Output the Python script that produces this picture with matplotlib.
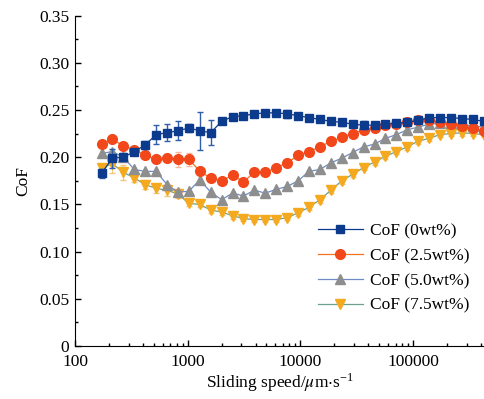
import numpy as np
import matplotlib
matplotlib.use("Agg")
import matplotlib.pyplot as plt
from matplotlib.ticker import LogLocator, MultipleLocator, NullFormatter

plt.rcParams["font.family"] = ["Liberation Serif", "DejaVu Serif"]
plt.rcParams["mathtext.fontset"] = "stix"

# Vitesse de glissement (um/s)
speed = [172, 215, 269, 336, 420, 525, 656, 820, 1025, 1281, 1601, 2001,
         2502, 3127, 3909, 4886, 6108, 7635, 9543, 11929, 14911, 18639, 23299, 29124,
         36405, 45506, 56883, 71103, 88879, 111099, 138874, 173592, 216990, 271238, 339047, 423809]

cof_0 = [0.183, 0.199, 0.200, 0.206, 0.213, 0.224, 0.226, 0.228, 0.231, 0.228, 0.226, 0.238,
         0.243, 0.244, 0.246, 0.247, 0.247, 0.246, 0.244, 0.242, 0.240, 0.238, 0.237, 0.235,
         0.234, 0.234, 0.235, 0.236, 0.237, 0.239, 0.242, 0.242, 0.242, 0.241, 0.240, 0.238]
err_0 = [0.005, 0.010, 0.004, 0.003, 0.004, 0.010, 0.009, 0.010, 0.004, 0.020, 0.013, 0.003,
         0.003, 0.003, 0.003, 0.003, 0.003, 0.004, 0.003, 0.003, 0.003, 0.003, 0.004, 0.003,
         0.004, 0.003, 0.003, 0.003, 0.003, 0.003, 0.003, 0.003, 0.003, 0.003, 0.003, 0.003]

cof_25 = [0.214, 0.219, 0.212, 0.208, 0.202, 0.198, 0.199, 0.198, 0.198, 0.185, 0.178, 0.175,
          0.181, 0.174, 0.184, 0.184, 0.189, 0.194, 0.202, 0.206, 0.211, 0.217, 0.221, 0.225,
          0.229, 0.231, 0.234, 0.235, 0.237, 0.239, 0.239, 0.237, 0.235, 0.233, 0.231, 0.228]
err_25 = [0.003, 0.003, 0.003, 0.003, 0.003, 0.003, 0.003, 0.008, 0.007, 0.003, 0.003, 0.003,
          0.003, 0.003, 0.003, 0.003, 0.003, 0.003, 0.003, 0.003, 0.003, 0.003, 0.003, 0.003,
          0.003, 0.003, 0.003, 0.003, 0.003, 0.003, 0.003, 0.003, 0.003, 0.003, 0.003, 0.003]

cof_50 = [0.204, 0.206, 0.200, 0.187, 0.185, 0.185, 0.171, 0.163, 0.164, 0.176, 0.163, 0.155,
          0.162, 0.159, 0.165, 0.162, 0.166, 0.169, 0.175, 0.185, 0.187, 0.194, 0.199, 0.205,
          0.211, 0.214, 0.220, 0.224, 0.229, 0.232, 0.235, 0.236, 0.236, 0.235, 0.233, 0.232]

cof_75 = [0.189, 0.193, 0.184, 0.178, 0.171, 0.167, 0.165, 0.161, 0.151, 0.150, 0.144, 0.142,
          0.138, 0.135, 0.134, 0.134, 0.134, 0.136, 0.141, 0.147, 0.155, 0.165, 0.175, 0.182,
          0.189, 0.195, 0.201, 0.206, 0.211, 0.217, 0.220, 0.224, 0.225, 0.226, 0.225, 0.224]
err_75 = [0.004, 0.010, 0.008, 0.004, 0.005, 0.005, 0.006, 0.004, 0.003, 0.003, 0.003, 0.003,
          0.003, 0.003, 0.003, 0.003, 0.003, 0.003, 0.003, 0.003, 0.003, 0.003, 0.003, 0.003,
          0.003, 0.003, 0.003, 0.003, 0.003, 0.003, 0.003, 0.003, 0.003, 0.003, 0.003, 0.003]

labels = ["CoF (0wt%)", "CoF (2.5wt%)", "CoF (5.0wt%)", "CoF (7.5wt%)"]
y_ticks = [0, 0.05, 0.10, 0.15, 0.20, 0.25, 0.30, 0.35]
y_labels = ["0", "0.05", "0.10", "0.15", "0.20", "0.25", "0.30", "0.35"]

fig = plt.figure(figsize=(4.85, 3.99), dpi=100)
ax = fig.add_axes([0.1546, 0.1328, 0.8454, 0.828])

# courbes
h0 = ax.errorbar(speed, cof_0, yerr=err_0, color="#0c3b8e", ecolor="#2f5fa8", lw=0.9, elinewidth=1.0,
                 capsize=2.5, marker="s", ms=6, zorder=5)
h1 = ax.errorbar(speed, cof_25, yerr=err_25, color="#f0741f", mfc="#f2471a", mec="#f2471a",
                 ecolor="#f7b89a", lw=0.9, elinewidth=0.8, capsize=2.5, marker="o", ms=7, zorder=4)
h2, = ax.plot(speed, cof_50, color="#6d8cc6", mfc="#8e8e8e", mec="#8e8e8e", lw=0.9,
              marker="^", ms=7, zorder=3)
h3 = ax.errorbar(speed, cof_75, yerr=err_75, color="#6ea08e", mfc="#f5a91e", mec="#f5a91e",
                 ecolor="#f2c77a", lw=0.9, elinewidth=0.8, capsize=2.5, marker="v", ms=7, zorder=2)

ax.set_xscale("log")
ax.set_xlim(100, 4.35e5)
ax.set_ylim(0, 0.35)
ax.set_xticks([100, 1000, 10000, 100000])
ax.set_xticklabels(["100", "1000", "10000", "100000"])
ax.xaxis.set_minor_locator(LogLocator(base=10, subs=np.arange(2, 10)))
ax.xaxis.set_minor_formatter(NullFormatter())
ax.set_yticks(y_ticks)
ax.set_yticklabels(y_labels)
ax.yaxis.set_minor_locator(MultipleLocator(0.025))

ax.spines["top"].set_visible(False)
ax.spines["right"].set_visible(False)
ax.tick_params(which="both", direction="in", labelsize=12.5, width=1.0)
ax.tick_params(which="major", length=4)
ax.tick_params(which="minor", length=2.5)
ax.tick_params(axis="x", pad=6)
ax.tick_params(axis="y", pad=4)

ax.set_xlabel(r"Sliding speed/$\mu$m$\cdot$s$^{\mathregular{-1}}$", fontsize=12.5, labelpad=1)
ax.set_ylabel("CoF", fontsize=12.5, labelpad=6)

# légende sans les barres d'erreur
handles = [h0.lines[0], h1.lines[0], h2, h3.lines[0]]
ax.legend(handles, labels, loc="lower right", bbox_to_anchor=(1.0, 0.05), frameon=False,
          fontsize=12.5, handlelength=2.6, handletextpad=0.4, labelspacing=0.5)

plt.savefig("out.png", dpi=100)
plt.close()
